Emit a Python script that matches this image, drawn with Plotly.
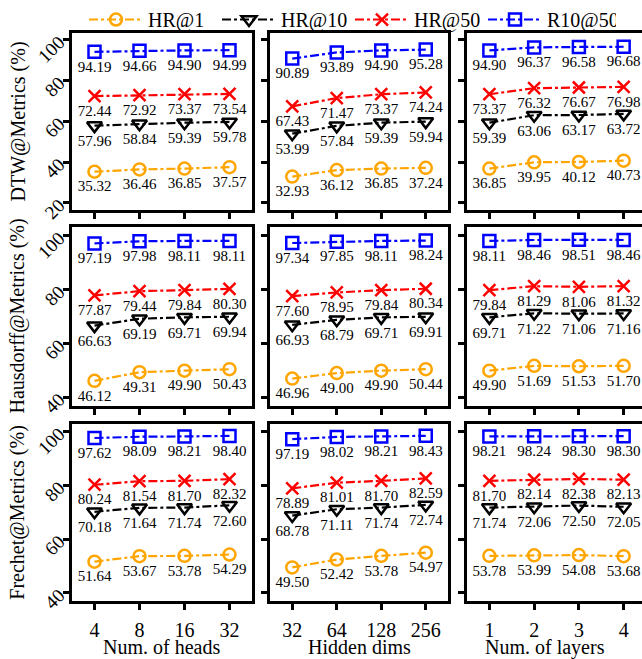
import plotly.graph_objects as go
from plotly.subplots import make_subplots

heads_labels = ["4", "8", "16", "32"]
dims_labels = ["32", "64", "128", "256"]
layers_labels = ["1", "2", "3", "4"]

series_names = ["HR@1", "HR@10", "HR@50", "R10@50"]

# DTW row
dtw_heads_hr1 = [35.32, 36.46, 36.85, 37.57]
dtw_heads_hr10 = [57.96, 58.84, 59.39, 59.78]
dtw_heads_hr50 = [72.44, 72.92, 73.37, 73.54]
dtw_heads_r10 = [94.19, 94.66, 94.90, 94.99]
dtw_dims_hr1 = [32.93, 36.12, 36.85, 37.24]
dtw_dims_hr10 = [53.99, 57.84, 59.39, 59.94]
dtw_dims_hr50 = [67.43, 71.47, 73.37, 74.24]
dtw_dims_r10 = [90.89, 93.89, 94.90, 95.28]
dtw_layers_hr1 = [36.85, 39.95, 40.12, 40.73]
dtw_layers_hr10 = [59.39, 63.06, 63.17, 63.72]
dtw_layers_hr50 = [73.37, 76.32, 76.67, 76.98]
dtw_layers_r10 = [94.90, 96.37, 96.58, 96.68]

# Hausdorff row
haus_heads_hr1 = [46.12, 49.31, 49.90, 50.43]
haus_heads_hr10 = [66.63, 69.19, 69.71, 69.94]
haus_heads_hr50 = [77.87, 79.44, 79.84, 80.30]
haus_heads_r10 = [97.19, 97.98, 98.11, 98.11]
haus_dims_hr1 = [46.96, 49.00, 49.90, 50.44]
haus_dims_hr10 = [66.93, 68.79, 69.71, 69.91]
haus_dims_hr50 = [77.60, 78.95, 79.84, 80.34]
haus_dims_r10 = [97.34, 97.85, 98.11, 98.24]
haus_layers_hr1 = [49.90, 51.69, 51.53, 51.70]
haus_layers_hr10 = [69.71, 71.22, 71.06, 71.16]
haus_layers_hr50 = [79.84, 81.29, 81.06, 81.32]
haus_layers_r10 = [98.11, 98.46, 98.51, 98.46]

# Frechet row
frec_heads_hr1 = [51.64, 53.67, 53.78, 54.29]
frec_heads_hr10 = [70.18, 71.64, 71.74, 72.60]
frec_heads_hr50 = [80.24, 81.54, 81.70, 82.32]
frec_heads_r10 = [97.62, 98.09, 98.21, 98.40]
frec_dims_hr1 = [49.50, 52.42, 53.78, 54.97]
frec_dims_hr10 = [68.78, 71.11, 71.74, 72.74]
frec_dims_hr50 = [78.89, 81.01, 81.70, 82.59]
frec_dims_r10 = [97.19, 98.02, 98.21, 98.43]
frec_layers_hr1 = [53.78, 53.99, 54.08, 53.68]
frec_layers_hr10 = [71.74, 72.06, 72.50, 72.05]
frec_layers_hr50 = [81.70, 82.14, 82.38, 82.13]
frec_layers_r10 = [98.21, 98.24, 98.30, 98.30]

row_titles = ["DTW@Metrics (%)", "Hausdorff@Metrics (%)", "Frechet@Metrics (%)"]
col_titles = ["Num. of heads", "Hidden dims", "Num. of layers"]
col_ticklabels = [heads_labels, dims_labels, layers_labels]

grid = [
    [[dtw_heads_hr1, dtw_heads_hr10, dtw_heads_hr50, dtw_heads_r10],
     [dtw_dims_hr1, dtw_dims_hr10, dtw_dims_hr50, dtw_dims_r10],
     [dtw_layers_hr1, dtw_layers_hr10, dtw_layers_hr50, dtw_layers_r10]],
    [[haus_heads_hr1, haus_heads_hr10, haus_heads_hr50, haus_heads_r10],
     [haus_dims_hr1, haus_dims_hr10, haus_dims_hr50, haus_dims_r10],
     [haus_layers_hr1, haus_layers_hr10, haus_layers_hr50, haus_layers_r10]],
    [[frec_heads_hr1, frec_heads_hr10, frec_heads_hr50, frec_heads_r10],
     [frec_dims_hr1, frec_dims_hr10, frec_dims_hr50, frec_dims_r10],
     [frec_layers_hr1, frec_layers_hr10, frec_layers_hr50, frec_layers_r10]],
]

row_ranges = [[16.5, 103.5], [36.7, 103.3], [36.9, 102.8]]
row_ticks = [[20, 40, 60, 80, 100], [40, 60, 80, 100], [40, 60, 80, 100]]

colors = ["#FFA500", "#000000", "#FF0000", "#0000FF"]
symbols = ["circle-open", "triangle-down-open", "x-thin-open", "square-open"]
msizes = [12, 13, 12, 12]

W, H = 642, 659


def px(xp):
    return xp / W


def py(yp):
    return 1 - yp / H


# pixel positions of the panels; the right column runs past the right edge
col_px = [(72, 252), (270, 448), (467, 642)]
col_xrange = [[-0.5, 3.5], [-0.5, 3.5], [-0.5, 3.41]]
row_px = [(30, 208), (225, 405), (423, 601)]

FONT = "Liberation Serif, Times New Roman, serif"

fig = make_subplots(rows=3, cols=3)

for r in range(3):
    for c in range(3):
        x = list(range(4))
        for s in range(4):
            y = grid[r][c][s]
            fig.add_trace(go.Scatter(
                x=x, y=y, mode="lines+markers+text",
                name=series_names[s],
                showlegend=(r == 0 and c == 0),
                line=dict(color=colors[s], width=2.2, dash="dashdot"),
                marker=dict(symbol=symbols[s], size=msizes[s], color=colors[s],
                            line=dict(color=colors[s], width=2.5)),
                text=[f"{v:.2f}" for v in y],
                textposition="bottom center",
                textfont=dict(family=FONT, size=15, color="black"),
                cliponaxis=False,
            ), row=r + 1, col=c + 1)

for r in range(3):
    for c in range(3):
        idx = r * 3 + c + 1
        xa = "xaxis" if idx == 1 else f"xaxis{idx}"
        ya = "yaxis" if idx == 1 else f"yaxis{idx}"
        x0, x1 = col_px[c]
        y0, y1 = row_px[r]
        fig.layout[xa].update(
            domain=[px(x0), min(1.0, px(x1))], range=col_xrange[c], automargin=False,
            tickmode="array", tickvals=[0, 1, 2, 3],
            ticktext=col_ticklabels[c] if r == 2 else ["", "", "", ""],
            showticklabels=(r == 2),
            ticks="outside", ticklen=6, tickwidth=2.5, tickcolor="black",
            ticklabelstandoff=3,
            showline=True, linewidth=3, linecolor="black", mirror=True,
            showgrid=False, zeroline=False,
            tickfont=dict(family=FONT, size=20, color="black"),
        )
        fig.layout[ya].update(
            domain=[py(y1), py(y0)], range=row_ranges[r], automargin=False,
            tickmode="array", tickvals=row_ticks[r],
            ticktext=[str(t) for t in row_ticks[r]] if c == 0 else [""] * len(row_ticks[r]),
            showticklabels=(c == 0),
            tickangle=-45,
            ticks="outside", ticklen=6, tickwidth=2.5, tickcolor="black",
            showline=True, linewidth=3, linecolor="black",
            mirror=(c != 2),
            showgrid=False, zeroline=False,
            tickfont=dict(family=FONT, size=19, color="black"),
        )

annotations = []
for r in range(3):
    y0, y1 = row_px[r]
    annotations.append(dict(
        text=row_titles[r], xref="paper", yref="paper",
        x=px(18), y=py((y0 + y1) / 2), textangle=-90,
        showarrow=False, xanchor="center", yanchor="middle",
        font=dict(family=FONT, size=20, color="black"),
    ))
col_title_cx = [162, 359, 545]
for c in range(3):
    annotations.append(dict(
        text=col_titles[c], xref="paper", yref="paper",
        x=px(col_title_cx[c]), y=py(647),
        showarrow=False, xanchor="center", yanchor="middle",
        font=dict(family=FONT, size=20, color="black"),
    ))

fig.update_layout(
    width=W, height=H,
    margin=dict(l=0, r=0, t=0, b=0),
    plot_bgcolor="white", paper_bgcolor="white",
    annotations=annotations,
    legend=dict(orientation="h", x=px(84), xanchor="left", y=1.0 + 3 / H, yanchor="top",
                font=dict(family=FONT, size=20, color="black"),
                bgcolor="rgba(0,0,0,0)", itemwidth=54,
                entrywidth=64, entrywidthmode="pixels", tracegroupgap=0),
    font=dict(family=FONT),
)

fig.write_html("out.html", config={"displayModeBar": False},
               post_script="document.body.style.margin='0px';")
